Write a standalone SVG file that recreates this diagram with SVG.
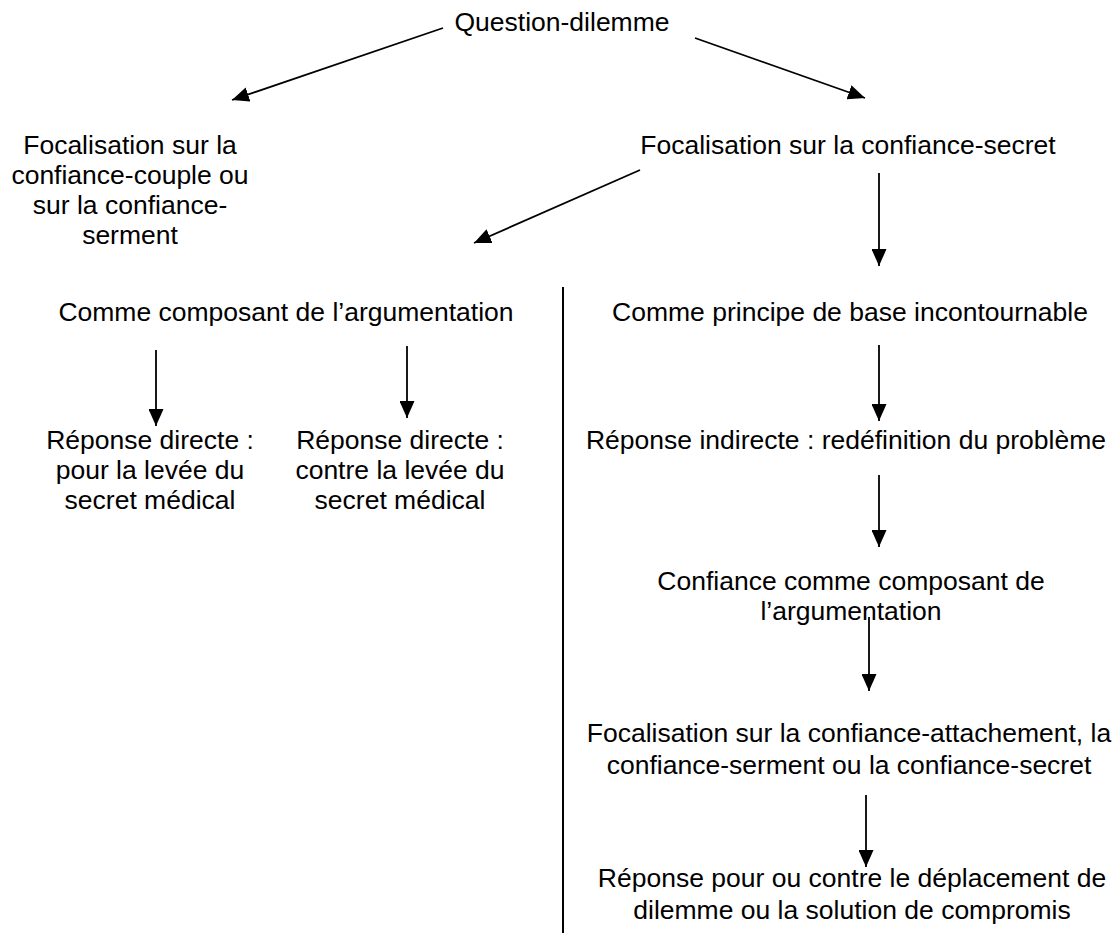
<svg xmlns="http://www.w3.org/2000/svg" width="1120" height="933" viewBox="0 0 1120 933">
<defs>
<marker id="ah" markerUnits="userSpaceOnUse" markerWidth="17" markerHeight="15" refX="17" refY="7.5" orient="auto">
<path d="M0,0 L17,7.5 L0,15 z" fill="#000"/>
</marker>
<style>
text{font-family:"Liberation Sans",Arial,sans-serif;font-size:26.5px;fill:#000;text-anchor:middle}
.c{stroke:#000;stroke-width:1.8;fill:none;marker-end:url(#ah)}
.d{stroke:#000;stroke-width:2;fill:none}
</style>
</defs>
<rect width="1120" height="933" fill="#fff"/>
<g id="n-question"><text x="562" y="31">Question-dilemme</text></g>
<g id="n-focal-couple"><text x="130" y="154">Focalisation sur la</text><text x="130" y="184">confiance-couple ou</text><text x="130" y="214">sur la confiance-</text><text x="130" y="244">serment</text></g>
<g id="n-focal-secret"><text x="848" y="154">Focalisation sur la confiance-secret</text></g>
<g id="n-comme-composant"><text x="286" y="321">Comme composant de l’argumentation</text></g>
<g id="n-comme-principe"><text x="850" y="321">Comme principe de base incontournable</text></g>
<g id="n-rep-pour"><text x="150" y="449">Réponse directe :</text><text x="150" y="479">pour la levée du</text><text x="150" y="509">secret médical</text></g>
<g id="n-rep-contre"><text x="400" y="449">Réponse directe :</text><text x="400" y="479">contre la levée du</text><text x="400" y="509">secret médical</text></g>
<g id="n-rep-indirecte"><text x="846" y="449">Réponse indirecte : redéfinition du problème</text></g>
<g id="n-confiance-comp"><text x="851" y="590">Confiance comme composant de</text><text x="851" y="620">l’argumentation</text></g>
<g id="n-focal-attach"><text x="849" y="742">Focalisation sur la confiance-attachement, la</text><text x="849" y="774">confiance-serment ou la confiance-secret</text></g>
<g id="n-rep-final"><text x="852" y="887">Réponse pour ou contre le déplacement de</text><text x="852" y="919">dilemme ou la solution de compromis</text></g>
<g id="connectors">
<line class="c" x1="443" y1="28" x2="232" y2="100"/>
<line class="c" x1="695" y1="38" x2="865" y2="98"/>
<line class="c" x1="640" y1="170" x2="474" y2="243"/>
<line class="c" x1="879" y1="173" x2="879" y2="266"/>
<line class="c" x1="156" y1="350" x2="156" y2="426"/>
<line class="c" x1="407" y1="346" x2="407" y2="418"/>
<line class="c" x1="879" y1="345" x2="879" y2="421"/>
<line class="c" x1="879" y1="475" x2="879" y2="547"/>
<line class="c" x1="869" y1="617" x2="869" y2="691"/>
<line class="c" x1="866" y1="795" x2="866" y2="867"/>
<line class="d" x1="563" y1="287" x2="563" y2="933"/>
</g>
</svg>
